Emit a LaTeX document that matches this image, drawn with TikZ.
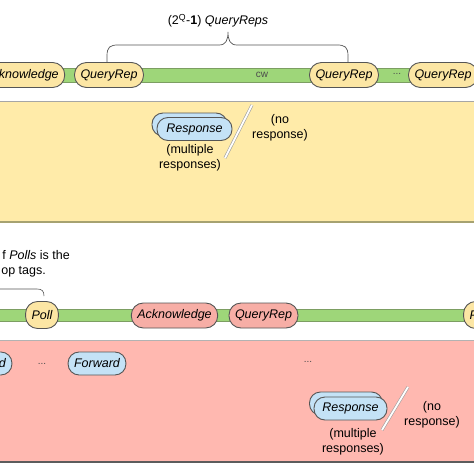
\documentclass[tikz,border=0pt]{standalone}
\usepackage{fontspec}
\setmainfont{Liberation Sans}
\definecolor{nodeyellow}{HTML}{FCE6A4}
\definecolor{boxyellow}{HTML}{FFEBA9}
\definecolor{nodepink}{HTML}{F7AEA6}
\definecolor{boxpink}{HTML}{FFB8B0}
\definecolor{nodeblue}{HTML}{C4E2F6}
\definecolor{barfill}{HTML}{9ED679}
\definecolor{barborder}{HTML}{7C9E62}
\definecolor{nodeborder}{HTML}{555555}
\begin{document}
\begin{tikzpicture}[x=1pt,y=-1pt,
  pill/.style={rectangle, rounded corners=12pt, draw=nodeborder, line width=0.9pt,
    minimum height=25pt, inner xsep=6pt, inner ysep=0pt,
    font=\fontsize{12.5}{15}\selectfont\itshape},
  ynode/.style={pill, fill=nodeyellow},
  pnode/.style={pill, fill=nodepink},
  bnode/.style={pill, fill=nodeblue, minimum height=23pt, rounded corners=11pt},
  note/.style={font=\fontsize{12.5}{15}\selectfont, align=center, inner sep=0pt},
  dots/.style={font=\fontsize{10}{12}\selectfont, inner sep=0pt, text=black!70},
  slash/.style={draw=gray!75, line width=0.6pt, double=white, double distance=1.8pt},
  bar/.style={fill=barfill, draw=barborder, line width=0.8pt}]
\useasboundingbox (0,0) rectangle (474,474);
\clip (0,0) rectangle (474,474);
\fill[white] (0,0) rectangle (474,474);

% ---------- top part ----------
\node[note] (bracelabel) at (218,21) {(2\textsuperscript{Q}-\textbf{1}) \textit{QueryReps}};
\draw[nodeborder, line width=0.7pt] (107,62) -- (107,56) .. controls (107,47) and (110,45) .. (118,45)
  -- (219,45) .. controls (226,45) and (228,40) .. (228,32)
  .. controls (228,40) and (230,45) .. (237,45) -- (337,45)
  .. controls (345,45) and (348,47) .. (348,56) -- (348,62);

\fill[bar] (-5,68) rectangle (480,82);
\node[ynode] (ack1) at (21.5,75) {Acknowledge};
\node[ynode] (qr1) at (109,75) {QueryRep};
\node[dots] (cw) at (262,75) {cw};
\node[ynode] (qr2) at (344,75) {QueryRep};
\node[dots] (dots1) at (397,74) {...};
\node[ynode] (qr3) at (443,75) {QueryRep};

% yellow box
\fill[boxyellow] (-5,101) rectangle (480,222);
\draw[gray!70, line width=0.8pt] (-5,101) -- (480,101);
\draw[gray!60!olive!80, line width=1.6pt] (-5,222) -- (480,222);

\node[bnode, minimum width=75pt] (resp1b) at (189.5,124.5) {\phantom{Response}};
\node[bnode, minimum width=75pt] (resp1) at (194.5,129) {Response};
\node[note] (multi1) at (190,157.5) {(multiple\\responses)};
\coordinate (s1a) at (225,158);
\coordinate (s1b) at (252,105);
\draw[slash] (s1a) -- (s1b);
\node[note] (noresp1) at (280,127.5) {(no\\response)};

% ---------- bottom part ----------
\node[note, anchor=east] (poll1) at (70,255) {f \textit{Polls} is the};
\node[note, anchor=east] (poll2) at (46,272) {op tags.};
\draw[nodeborder, line width=0.6pt] (-5,289) -- (37,289) .. controls (42,289) and (44,291) .. (44,296);

\fill[bar] (-5,309) rectangle (480,321);
\node[ynode, minimum height=27pt] (poll) at (42,315) {Poll};
\node[pnode] (ack2) at (174.5,315.5) {Acknowledge};
\node[pnode] (qr4) at (263.5,315.5) {QueryRep};
\node[ynode, minimum height=27pt] (poll3) at (480,315) {Poll};

% pink box
\fill[boxpink] (-5,340) rectangle (480,462);
\draw[gray!60, line width=0.8pt] (-5,340) -- (480,340);
\draw[gray!40!black!80, line width=1.6pt] (-5,462) -- (480,462);

\node[bnode] (fwd0) at (-17,363.5) {Forward};
\node[dots] (dots2) at (42,364) {...};
\node[bnode] (fwd1) at (97,363.5) {Forward};
\node[dots] (dots3) at (308,362) {...};

\node[bnode, minimum width=73pt] (resp2b) at (346,403.5) {\phantom{Response}};
\node[bnode, minimum width=73pt] (resp2) at (350.5,408.5) {Response};
\node[note] (multi2) at (353,442) {(multiple\\responses)};
\coordinate (s2a) at (382,430);
\coordinate (s2b) at (408,387);
\draw[slash] (s2a) -- (s2b);
\node[note] (noresp2) at (432,414.5) {(no\\response)};
\end{tikzpicture}
\end{document}
